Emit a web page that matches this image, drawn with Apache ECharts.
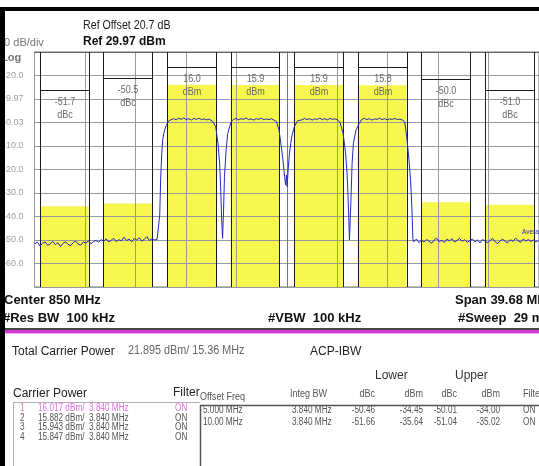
<!DOCTYPE html>
<html>
<head>
<meta charset="utf-8">
<script src="https://cdn.jsdelivr.net/npm/echarts@6/dist/echarts.min.js"></script>
<style>
  html, body { margin: 0; padding: 0; background: #fff; }
  #chart { width: 539px; height: 466px; }
</style>
</head>
<body>
<div id="chart"></div>
<script>
// analyzer setup
var centerMHz = 850;
var spanMHz = 39.68;
var refLevel = 29.97;
var integBW = 3.84;
var totalPower = 21.895;

// carriers
var carrierMHz = [842.5, 847.5, 852.5, 857.5];
var carrierDbm = [16.017, 15.882, 15.943, 15.847];

// adjacent channels (offset 5 and 10 MHz)
var offsetTxt = ['5.000 MHz', '10.00 MHz'];
var lowerDbc = [-50.46, -51.66];
var lowerDbm = [-34.45, -35.64];
var upperDbc = [-50.01, -51.04];
var upperDbm = [-34.00, -35.02];
var adjMHz = [832.5, 837.5, 862.5, 867.5];

// y tick labels, top to bottom
var yTickLabels = ['', '20.0', '9.97', '-0.03', '-10.0', '-20.0', '-30.0', '-40.0', '-50.0', '-60.0', ''];

// spectrum trace [MHz, dBm]
var trace = [
  [830.16, -51.6], [830.2, -52.1], [830.4, -51.0], [830.6, -52.6], [830.8, -51.4], [831.0, -50.9], [831.2, -52.3],
  [831.4, -51.7], [831.6, -50.6], [831.8, -52.0], [832.0, -51.2], [832.2, -52.8], [832.4, -51.5], [832.6, -50.8],
  [832.8, -51.9], [833.0, -52.4], [833.2, -51.1], [833.4, -50.5], [833.6, -51.8], [833.8, -52.2], [834.0, -50.9],
  [834.2, -51.3], [834.4, -50.4], [834.6, -51.6], [834.8, -50.7],
  [835.0, -50.2], [835.2, -51.0], [835.4, -49.8], [835.6, -50.6], [835.8, -49.5], [836.0, -50.9], [836.2, -50.1],
  [836.4, -49.3], [836.6, -50.7], [836.8, -49.9], [837.0, -50.4], [837.2, -48.8], [837.4, -50.3], [837.6, -49.6],
  [837.8, -50.8], [838.0, -49.4], [838.2, -50.0], [838.4, -49.1], [838.6, -50.5], [838.8, -49.7], [839.0, -48.6],
  [839.2, -50.2], [839.4, -49.5], [839.6, -50.0], [839.8, -49.8],
  [839.93, -49.0], [840.01, -39.4], [840.08, -24.5], [840.16, -13.9], [840.24, -7.5], [840.35, -4.1], [840.5, -1.5],
  [840.66, 0.3], [840.89, 1.2],
  [841.1, 1.6], [841.3, 1.1], [841.5, 1.8], [841.7, 1.3], [841.9, 1.9], [842.1, 1.2], [842.3, 1.6], [842.5, 1.0],
  [842.7, 1.7], [842.9, 1.3], [843.1, 1.8], [843.3, 1.2], [843.5, 1.5], [843.7, 1.1], [843.9, 1.4],
  [844.21, 0.3], [844.41, -1.8], [844.59, -8.9], [844.72, -17.4], [844.8, -27.3], [844.87, -40.1], [844.95, -49.3],
  [845.03, -37.3], [845.1, -23.1], [845.23, -11.7], [845.36, -4.6], [845.62, 0.3],
  [845.8, 1.2], [846.0, 1.7], [846.2, 1.1], [846.4, 1.6], [846.6, 1.3], [846.8, 1.9], [847.0, 1.2], [847.2, 1.5],
  [847.4, 1.0], [847.6, 1.6], [847.8, 1.3], [848.0, 1.8], [848.2, 1.1], [848.4, 1.5], [848.6, 1.2], [848.8, 1.6],
  [849.0, 1.0],
  [849.19, 0.3], [849.39, -3.2], [849.57, -10.3], [849.7, -16.0], [849.83, -23.1], [849.91, -26.6], [849.98, -22.4],
  [850.03, -27.3], [850.11, -20.2], [850.21, -13.1], [850.39, -6.1], [850.6, -1.8], [850.85, 0.7],
  [851.0, 1.5], [851.2, 1.1], [851.4, 1.7], [851.6, 1.2], [851.8, 1.6], [852.0, 1.0], [852.2, 1.5], [852.4, 1.3],
  [852.6, 1.8], [852.8, 1.2], [853.0, 1.6], [853.2, 1.1], [853.4, 1.7], [853.6, 1.3], [853.8, 1.5], [854.0, 1.0],
  [854.17, 0.3], [854.43, -4.6], [854.63, -13.1], [854.76, -23.1], [854.86, -37.3], [854.93, -50.0], [855.04, -34.4],
  [855.14, -17.4], [855.24, -8.9], [855.45, -3.2], [855.7, -0.4],
  [855.9, 1.3], [856.1, 1.7], [856.3, 1.2], [856.5, 1.6], [856.7, 1.0], [856.9, 1.5], [857.1, 1.3], [857.3, 1.8],
  [857.5, 1.2], [857.7, 1.6], [857.9, 1.1], [858.1, 1.5], [858.3, 1.3], [858.5, 1.7], [858.7, 1.2], [858.9, 1.4],
  [859.1, 1.0],
  [859.28, 0.2], [859.41, -5.0], [859.52, -10.5], [859.62, -16.5], [859.74, -24.5], [859.84, -35.9], [859.92, -49.5],
  [860.0, -50.8], [860.2, -49.6], [860.4, -51.2], [860.6, -50.1], [860.8, -50.9], [861.0, -49.8], [861.2, -50.6],
  [861.4, -51.4], [861.6, -50.0], [861.8, -49.3], [862.0, -50.7], [862.2, -50.2], [862.4, -51.1], [862.6, -49.7],
  [862.8, -50.4], [863.0, -49.5], [863.2, -50.9], [863.4, -50.1], [863.6, -49.4], [863.8, -50.6], [864.0, -49.9],
  [864.2, -51.0], [864.4, -50.3], [864.6, -49.6], [864.8, -50.8], [865.0, -50.0], [865.2, -51.3], [865.4, -49.8],
  [865.6, -50.5], [865.8, -51.2], [866.0, -50.1], [866.2, -49.4], [866.4, -50.9], [866.6, -51.5], [866.8, -50.3],
  [867.0, -49.7], [867.2, -50.8], [867.4, -51.1], [867.6, -49.9], [867.8, -50.6], [868.0, -49.2], [868.2, -50.4],
  [868.4, -51.0], [868.6, -49.6], [868.8, -50.5], [869.0, -49.8], [869.2, -50.7], [869.4, -50.0], [869.6, -50.9],
  [869.8, -50.2], [869.84, -50.4]
];

// all 8 channels left to right
var chanMHz = [adjMHz[0], adjMHz[1]].concat(carrierMHz, [adjMHz[2], adjMHz[3]]);
var chanPower = [lowerDbm[1], lowerDbm[0]].concat(carrierDbm, [upperDbm[0], upperDbm[1]]);
var chanLabel = [lowerDbc[1].toFixed(1) + '\ndBc', lowerDbc[0].toFixed(1) + '\ndBc']
  .concat(carrierDbm.map(function (p) { return p.toFixed(1) + '\ndBm'; }))
  .concat([upperDbc[0].toFixed(1) + '\ndBc', upperDbc[1].toFixed(1) + '\ndBc']);
// pixel drop of the bracket line below the top of the plot
var bracketDrop = [38, 26, 15, 15, 15, 15, 27, 38];

var REG = "'Liberation Sans', Arial, sans-serif";
var NS = 0.82; // squeeze for the narrow analyzer font

function txt(s, x, y, font, color, align, sx) {
  return {
    type: 'text', x: x, y: y, z: 50, scaleX: sx || 1,
    style: { text: s, font: font, fill: color || '#222', align: align || 'left', textAlign: align || 'left',
      verticalAlign: 'middle', textVerticalAlign: 'middle' }
  };
}
function hline(x1, x2, y, color, w) {
  return { type: 'line', z: 50, shape: { x1: x1, y1: y, x2: x2, y2: y }, style: { stroke: color, lineWidth: w || 1 } };
}
function vline(x, y1, y2, color, w) {
  return { type: 'line', z: 50, shape: { x1: x, y1: y1, x2: x, y2: y2 }, style: { stroke: color, lineWidth: w || 1 } };
}

var gfx = [
  { type: 'rect', z: 100, shape: { x: 0, y: 7, width: 539, height: 4 }, style: { fill: '#000' } },
  { type: 'rect', z: 100, shape: { x: 0, y: 7, width: 5, height: 459 }, style: { fill: '#000' } },
  txt('Ref Offset 20.7 dB', 83, 25, '13px ' + REG, '#222', 'left', NS),
  txt('Ref 29.97 dBm', 83, 42, 'bold 12px ' + REG, '#111'),
  txt('10 dB/div', -2, 43, '11px ' + REG, '#777'),
  txt('Log', 1, 58, 'bold 11px ' + REG, '#777'),
  txt('Average', 522, 232, '8px ' + REG, '#3030c0', 'left', NS),
  txt('Center 850 MHz', 4, 300, 'bold 13px ' + REG, '#111'),
  txt('#Res BW  100 kHz', 3, 318, 'bold 13px ' + REG, '#111'),
  txt('#VBW  100 kHz', 268, 318, 'bold 13px ' + REG, '#111'),
  txt('Span 39.68 MHz', 455, 300, 'bold 13px ' + REG, '#111'),
  txt('#Sweep  29 ms', 458, 318, 'bold 13px ' + REG, '#111'),
  { type: 'rect', z: 50, shape: { x: 0, y: 328, width: 539, height: 2 }, style: { fill: '#444' } },
  { type: 'rect', z: 50, shape: { x: 0, y: 330, width: 539, height: 3 }, style: { fill: '#d838d8' } },
  { type: 'rect', z: 50, shape: { x: 0, y: 333, width: 539, height: 1 }, style: { fill: '#f2b0f2' } },
  txt('Total Carrier Power', 12, 352, '12px ' + REG, '#222'),
  txt(totalPower.toFixed(3) + ' dBm/ 15.36 MHz', 128, 351, '12px ' + REG, '#666', 'left', 0.9),
  txt('ACP-IBW', 310, 352, '12px ' + REG, '#222'),
  txt('Lower', 375, 376, '12px ' + REG, '#333'),
  txt('Upper', 455, 376, '12px ' + REG, '#333'),
  txt('Carrier Power', 13, 394, '12px ' + REG, '#222'),
  txt('Filter', 173, 393, '12px ' + REG, '#222'),
  txt('Offset Freq', 200, 397, '11px ' + REG, '#555', 'left', NS),
  txt('Integ BW', 290, 394, '11px ' + REG, '#555', 'left', NS),
  txt('dBc', 375, 394, '11px ' + REG, '#555', 'right', NS),
  txt('dBm', 423, 394, '11px ' + REG, '#555', 'right', NS),
  txt('dBc', 457, 394, '11px ' + REG, '#555', 'right', NS),
  txt('dBm', 500, 394, '11px ' + REG, '#555', 'right', NS),
  txt('Filter', 523, 394, '11px ' + REG, '#555', 'left', NS),
  hline(13, 200, 402.5, '#b0b0b0'),
  vline(13.5, 402, 466, '#b0b0b0'),
  hline(200, 539, 405.5, '#555', 1.5),
  vline(200.5, 405, 466, '#555', 1.5)
];

var rowY = [408, 418, 427.5, 437];
carrierDbm.forEach(function (p, i) {
  var c = i === 0 ? '#e070e0' : '#555';
  gfx.push(txt(String(i + 1), 20, rowY[i], '10px ' + REG, c, 'left', NS));
  gfx.push(txt(p.toFixed(3) + ' dBm/  ' + integBW.toFixed(3) + ' MHz', 38, rowY[i], '10px ' + REG, c, 'left', NS));
  gfx.push(txt('ON', 175, rowY[i], '10px ' + REG, c, 'left', NS));
});
var offY = [410, 422];
offsetTxt.forEach(function (o, i) {
  gfx.push(txt(o, 203, offY[i], '10px ' + REG, '#555', 'left', NS));
  gfx.push(txt(integBW.toFixed(3) + ' MHz', 292, offY[i], '10px ' + REG, '#555', 'left', NS));
  gfx.push(txt(lowerDbc[i].toFixed(2), 375, offY[i], '10px ' + REG, '#555', 'right', NS));
  gfx.push(txt(lowerDbm[i].toFixed(2), 423, offY[i], '10px ' + REG, '#555', 'right', NS));
  gfx.push(txt(upperDbc[i].toFixed(2), 457, offY[i], '10px ' + REG, '#555', 'right', NS));
  gfx.push(txt(upperDbm[i].toFixed(2), 500, offY[i], '10px ' + REG, '#555', 'right', NS));
  gfx.push(txt('ON', 523, offY[i], '10px ' + REG, '#555', 'left', NS));
});

var chanData = chanMHz.map(function (f, i) { return [f, chanPower[i]]; });

var chart = echarts.init(document.getElementById('chart'));
chart.setOption({
  animation: false,
  grid: { left: 30, top: 52, right: -10, bottom: 179, show: true, borderColor: '#777', borderWidth: 1, backgroundColor: 'transparent' },
  xAxis: {
    type: 'value', min: -spanMHz / 2, max: spanMHz / 2, interval: spanMHz / 10, z: 3,
    axisLabel: { show: false }, axisTick: { show: false },
    axisLine: { show: true, lineStyle: { color: '#666' } },
    splitLine: { show: true, lineStyle: { color: '#9a9a9a', width: 1 } }
  },
  yAxis: {
    type: 'value', min: -100, max: 0, interval: 10, z: 3,
    axisTick: { show: false },
    axisLine: { show: true, lineStyle: { color: '#777' } },
    axisLabel: {
      margin: 11, align: 'right', color: '#a0a0a0', fontSize: 9, fontFamily: REG,
      formatter: function (v) { return yTickLabels[Math.round(-v / 10)] || ''; }
    },
    splitLine: { show: true, lineStyle: { color: '#999', width: 1 } }
  },
  graphic: { elements: gfx },
  series: [
    {
      type: 'custom', z: 2, silent: true,
      data: chanData,
      renderItem: function (params, api) {
        var f = api.value(0);
        var a = api.coord([f - integBW / 2 - centerMHz, api.value(1) - refLevel]);
        var b = api.coord([f + integBW / 2 - centerMHz, -100]);
        return { type: 'rect', shape: { x: a[0], y: a[1], width: b[0] - a[0], height: b[1] - a[1] }, style: { fill: '#f6f64e' } };
      }
    },
    {
      type: 'custom', z: 4, silent: true,
      data: chanData,
      renderItem: function (params, api) {
        var i = params.dataIndex;
        var f = api.value(0);
        var a = api.coord([f - integBW / 2 - centerMHz, 0]);
        var b = api.coord([f + integBW / 2 - centerMHz, -100]);
        var x0 = Math.round(a[0]) + 0.5, x1 = Math.round(b[0]) + 0.5;
        var y0 = a[1], y1 = b[1];
        var by = Math.round(y0 + bracketDrop[i]) + 0.5;
        return {
          type: 'group',
          children: [
            { type: 'line', shape: { x1: x0, y1: y0, x2: x0, y2: y1 }, style: { stroke: '#1c1c1c', lineWidth: 1 } },
            { type: 'line', shape: { x1: x1, y1: y0, x2: x1, y2: y1 }, style: { stroke: '#1c1c1c', lineWidth: 1 } },
            { type: 'line', shape: { x1: x0, y1: by, x2: x1, y2: by }, style: { stroke: '#1c1c1c', lineWidth: 1 } },
            {
              type: 'text', x: (x0 + x1) / 2, y: by + 5, scaleX: NS,
              style: {
                text: chanLabel[i], x: 0, y: 0,
                align: 'center', textAlign: 'center', verticalAlign: 'top', textVerticalAlign: 'top',
                font: '11px ' + REG, fill: '#6a6a6a', lineHeight: 13
              }
            }
          ]
        };
      }
    },
    {
      type: 'line', z: 6, silent: true, showSymbol: false, symbol: 'none',
      data: trace.map(function (p) { return [p[0] - centerMHz, p[1] - refLevel]; }),
      lineStyle: { color: '#2828bc', width: 1 }
    }
  ]
});
</script>
</body>
</html>
